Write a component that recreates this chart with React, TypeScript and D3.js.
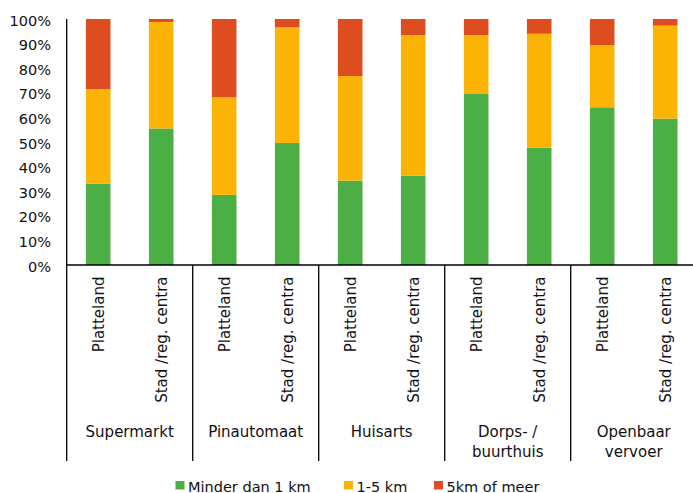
import React from "react";
import * as d3 from "d3";

const groups = ["Supermarkt", "Pinautomaat", "Huisarts", "Dorps- / buurthuis", "Openbaar vervoer"];
const groupLines = [["Supermarkt"], ["Pinautomaat"], ["Huisarts"], ["Dorps- /", "buurthuis"], ["Openbaar", "vervoer"]];
const subcats = ["Platteland", "Stad /reg. centra"];
const seriesNames = ["Minder dan 1 km", "1-5 km", "5km of meer"];
const seriesColors = ["#4BAF45", "#FBB405", "#DD4D1F"];
// values per group: [Platteland, Stad]
const minderDan1 = [[33, 55.5], [28.5, 49.6], [34.3, 36.3], [69.5, 47.7], [64.1, 59.5]];
const een5km = [[38.5, 43.3], [39.8, 47.1], [42.5, 57.2], [24, 46.3], [25.3, 37.8]];
const vijfPlus = [[28.5, 1.2], [31.7, 3.3], [23.2, 6.5], [6.5, 6], [10.6, 2.7]];
const yTicks = [0, 10, 20, 30, 40, 50, 60, 70, 80, 90, 100];

export default function App() {
  const W = 693, H = 493;
  const left = 66.7, top = 19, bottom = 265;
  const groupStep = 126;
  const x0 = d3.scaleBand<string>().domain(groups).range([left, left + groupStep * groups.length]).padding(0);
  const x1 = d3.scaleBand<string>().domain(subcats).range([0, x0.bandwidth()]).paddingInner(0.61).paddingOuter(0.305);
  const y = d3.scaleLinear().domain([0, 100]).range([bottom, top]);
  const seriesData = [minderDan1, een5km, vijfPlus];
  const font = "'DejaVu Sans', sans-serif";

  const rects: React.ReactNode[] = [];
  groups.forEach((g, gi) => {
    subcats.forEach((s, si) => {
      let acc = 0;
      seriesData.forEach((ser, k) => {
        const v = ser[gi][si];
        const y0 = y(acc), y1 = y(acc + v);
        acc += v;
        rects.push(
          <rect key={`${gi}-${si}-${k}`} x={(x0(g) as number) + (x1(s) as number)} y={y1}
            width={x1.bandwidth()} height={y0 - y1} fill={seriesColors[k]} />
        );
      });
    });
  });

  const sepBottom = 461;
  const legendX = [175.5, 344, 434];

  return (
    <svg width={W} height={H} style={{ position: "absolute", left: 0, top: 0, background: "#fff" }} fontFamily={font}>
      {rects}
      <line x1={left} x2={left} y1={top} y2={sepBottom} stroke="#000" strokeWidth={1.3} />
      <line x1={left} x2={W} y1={bottom} y2={bottom} stroke="#000" strokeWidth={1.3} />
      {yTicks.map((t) => (
        <text key={t} x={51} y={y(t) + 1.5} textAnchor="end" dominantBaseline="central" fontSize={14.5} fill="#111">{t}%</text>
      ))}
      {groups.map((g, gi) => {
        const gx = x0(g) as number;
        return (
          <g key={g}>
            <line x1={gx + x0.bandwidth()} x2={gx + x0.bandwidth()} y1={bottom} y2={sepBottom} stroke="#000" strokeWidth={1.3} />
            {subcats.map((s) => {
              const cx = gx + (x1(s) as number) + x1.bandwidth() / 2;
              return (
                <text key={s} transform={`translate(${cx + 0.5},${276.5}) rotate(-90)`} textAnchor="end" dy="0.36em" fontSize={15} fill="#111">{s}</text>
              );
            })}
            {groupLines[gi].map((ln, li) => (
              <text key={li} x={gx + x0.bandwidth() / 2} y={437 + li * 19.5} textAnchor="middle" fontSize={15} fill="#111">{ln}</text>
            ))}
          </g>
        );
      })}
      {seriesNames.map((n, k) => (
        <g key={n}>
          <rect x={legendX[k]} y={481} width={9} height={8.5} fill={seriesColors[k]} />
          <text x={legendX[k] + 12.5} y={491.5} fontSize={14.5} fill="#111">{n}</text>
        </g>
      ))}
    </svg>
  );
}
